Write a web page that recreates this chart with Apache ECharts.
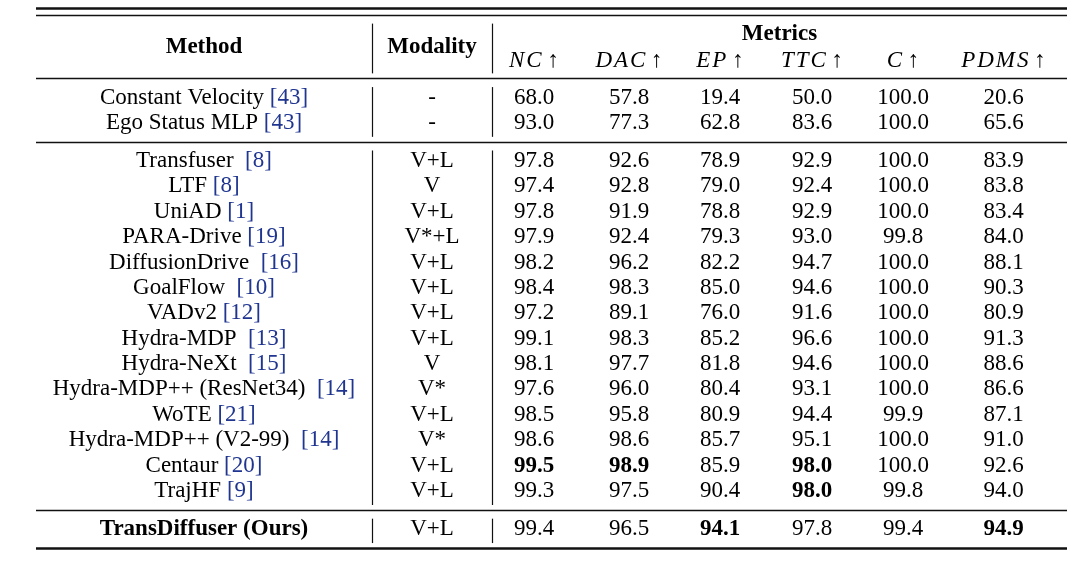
<!DOCTYPE html>
<html>
<head>
<meta charset="utf-8">
<script src="https://cdn.jsdelivr.net/npm/echarts@6/dist/echarts.min.js"></script>
<style>
  html, body { margin: 0; padding: 0; background: #fff; }
  #main { width: 1080px; height: 573px; }
</style>
</head>
<body>
<div id="main"></div>
<script>
// table content
var methods = ['Constant Velocity', 'Ego Status MLP', 'Transfuser ', 'LTF', 'UniAD', 'PARA-Drive',
  'DiffusionDrive ', 'GoalFlow ', 'VADv2', 'Hydra-MDP ', 'Hydra-NeXt ', 'Hydra-MDP++ (ResNet34) ',
  'WoTE', 'Hydra-MDP++ (V2-99) ', 'Centaur', 'TrajHF', 'TransDiffuser (Ours)'];
var cites = ['43', '43', '8', '8', '1', '19', '16', '10', '12', '13', '15', '14', '21', '14', '20', '9', null];
var modality = ['-', '-', 'V+L', 'V', 'V+L', 'V*+L', 'V+L', 'V+L', 'V+L', 'V+L', 'V', 'V*', 'V+L', 'V*', 'V+L', 'V+L', 'V+L'];
var groupSizes = [2, 14, 1];

var metricNames = ['NC', 'DAC', 'EP', 'TTC', 'C', 'PDMS'];
var nc   = [68.0, 93.0, 97.8, 97.4, 97.8, 97.9, 98.2, 98.4, 97.2, 99.1, 98.1, 97.6, 98.5, 98.6, 99.5, 99.3, 99.4];
var dac  = [57.8, 77.3, 92.6, 92.8, 91.9, 92.4, 96.2, 98.3, 89.1, 98.3, 97.7, 96.0, 95.8, 98.6, 98.9, 97.5, 96.5];
var ep   = [19.4, 62.8, 78.9, 79.0, 78.8, 79.3, 82.2, 85.0, 76.0, 85.2, 81.8, 80.4, 80.9, 85.7, 85.9, 90.4, 94.1];
var ttc  = [50.0, 83.6, 92.9, 92.4, 92.9, 93.0, 94.7, 94.6, 91.6, 96.6, 94.6, 93.1, 94.4, 95.1, 98.0, 98.0, 97.8];
var cc   = [100.0, 100.0, 100.0, 100.0, 100.0, 99.8, 100.0, 100.0, 100.0, 100.0, 100.0, 100.0, 99.9, 100.0, 100.0, 99.8, 99.4];
var pdms = [20.6, 65.6, 83.9, 83.8, 83.4, 84.0, 88.1, 90.3, 80.9, 91.3, 88.6, 86.6, 87.1, 91.0, 92.6, 94.0, 94.9];
// [row, metric] shown in bold
var boldCells = [[14, 'NC'], [14, 'DAC'], [14, 'TTC'], [15, 'TTC'], [16, 'EP'], [16, 'PDMS']];
var boldMethods = [16];

// layout
var colWidths = [336, 120, 84, 106, 76, 108, 74, 127];
var FONT = '"Liberation Serif", "Times New Roman", serif';
var FS = 23;
var TEXT = '#000';
var CITE = '#1f3590';
var RULE = '#111';

var colCenters = [], colEdges = [0];
colWidths.reduce(function (acc, w) {
  colCenters.push(acc + w / 2);
  colEdges.push(acc + w);
  return acc + w;
}, 0);
var tableW = colEdges[colEdges.length - 1];

// row positions (header lines at 0 and 1, body groups separated by an extra half row)
var rowY = [], rules = [1.75];
var y = 2.5;
groupSizes.forEach(function (n, g) {
  for (var i = 0; i < n; i++) { rowY.push(y); y += 1; }
  if (g < groupSizes.length - 1) { rules.push(y - 0.25); y += 0.5; }
});
var bottomRule = rowY[rowY.length - 1] + 0.75;
var topRule = -0.75;

var metricCols = [nc, dac, ep, ttc, cc, pdms];

function isBold(r, m) {
  return boldCells.some(function (b) { return b[0] === r && b[1] === m; });
}

function textSeries(name, data) {
  return {
    name: name,
    type: 'scatter',
    symbolSize: 1,
    itemStyle: { color: 'transparent', opacity: 1 },
    silent: true,
    data: data,
    label: {
      show: true,
      position: 'inside',
      align: 'center',
      verticalAlign: 'middle',
      opacity: 1,
      fontFamily: FONT,
      fontSize: FS,
      color: TEXT,
      textBorderWidth: 0,
      formatter: function (p) { return p.data.text; },
      rich: {
        c: { fontFamily: FONT, fontSize: FS, color: CITE },
        n: { fontFamily: FONT, fontSize: FS, color: TEXT }
      }
    }
  };
}

var series = [];

// header
var headerData = [
  { value: [colCenters[0], 0.5], text: 'Method', label: { fontWeight: 'bold' } },
  { value: [colCenters[1], 0.5], text: 'Modality', label: { fontWeight: 'bold' } },
  { value: [(colEdges[2] + tableW) / 2, 0], text: 'Metrics', label: { fontWeight: 'bold' } }
];
metricNames.forEach(function (m, i) {
  headerData.push({
    value: [colCenters[i + 2], 1.05],
    text: m.split('').join('\u200a') + ' \u2191',
    label: { fontStyle: 'italic', fontSize: 23 }
  });
});
series.push(textSeries('header', headerData));

// method column
series.push(textSeries('method', methods.map(function (m, r) {
  var bold = boldMethods.indexOf(r) >= 0;
  var txt = cites[r] ? '{n|' + m + ' }{c|[' + cites[r] + ']}' : m;
  return { value: [colCenters[0], rowY[r]], text: txt, label: bold ? { fontWeight: 'bold' } : undefined };
})));

series.push(textSeries('modality', modality.map(function (m, r) {
  return { value: [colCenters[1], rowY[r]], text: m };
})));

metricCols.forEach(function (vals, i) {
  series.push(textSeries(metricNames[i], vals.map(function (v, r) {
    var d = { value: [colCenters[i + 2], rowY[r]], text: v.toFixed(1) };
    if (isBold(r, metricNames[i])) d.label = { fontWeight: 'bold' };
    return d;
  })));
});

// horizontal rules
function hLine(yv) { return { coords: [[0, yv], [tableW, yv]] }; }
series.push({
  type: 'lines', coordinateSystem: 'cartesian2d', silent: true,
  lineStyle: { color: RULE, width: 1.4, opacity: 1 },
  data: [hLine(topRule)].concat(rules.map(hLine))
});
series.push({
  type: 'lines', coordinateSystem: 'cartesian2d', silent: true,
  lineStyle: { color: RULE, width: 2.6, opacity: 1 },
  data: [hLine(-1.0), hLine(bottomRule)]
});

// vertical separators, broken at every horizontal rule
var stops = [topRule].concat(rules, [bottomRule]);
var vData = [];
[colEdges[1], colEdges[2]].forEach(function (xv) {
  for (var k = 0; k < stops.length - 1; k++) {
    vData.push({ coords: [[xv, stops[k] + 0.34], [xv, stops[k + 1] - 0.2]] });
  }
});
series.push({
  type: 'lines', coordinateSystem: 'cartesian2d', silent: true,
  lineStyle: { color: RULE, width: 1.2, opacity: 1 },
  data: vData
});

var chart = echarts.init(document.getElementById('main'));
chart.setOption({
  animation: false,
  backgroundColor: '#fff',
  grid: { left: 36, right: 13, top: 0, bottom: 0 },
  xAxis: { type: 'value', min: 0, max: tableW, show: false },
  yAxis: { type: 'value', inverse: true, min: -1.34, max: 21.23, show: false },
  series: series
});
</script>
</body>
</html>
